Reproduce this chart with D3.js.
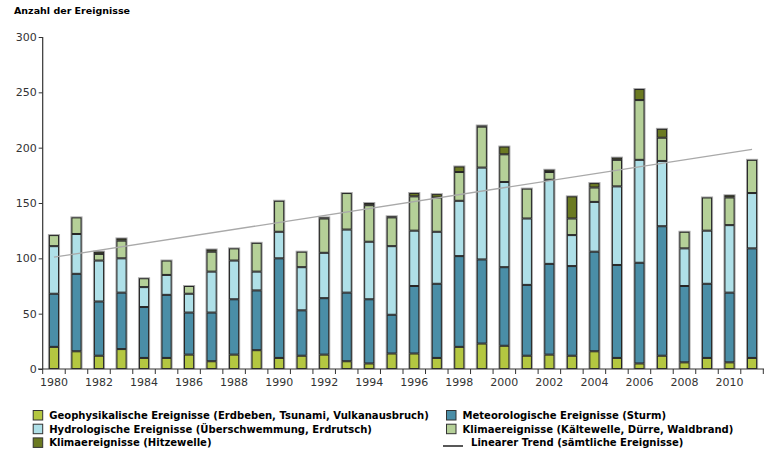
<!DOCTYPE html>
<html>
<head>
<meta charset="utf-8">
<script src="https://cdn.jsdelivr.net/npm/d3@7"></script>
<style>
  html, body { margin: 0; padding: 0; background: #fff; }
  svg { display: block; }
</style>
</head>
<body>
<svg id="chart" width="774" height="456"></svg>
<script>
// ---- Data ----
const years = d3.range(1980, 2012);
const geophysical = [20,16,12,18,10,10,13,7,13,17,10,12,13,7,5,14,14,10,20,23,21,12,13,12,16,10,5,12,6,10,6,10];
const meteorological = [48,70,49,51,46,57,38,44,50,54,90,41,51,62,58,35,61,67,82,76,71,64,82,81,90,84,91,117,69,67,63,99];
const hydrological = [43,36,37,31,18,18,17,37,35,17,24,39,41,57,52,62,50,47,50,83,77,60,76,28,45,71,93,59,34,48,61,50];
const climateCold = [10,15,6,16,8,13,7,18,11,26,28,14,31,33,33,26,31,31,26,37,25,27,7,15,13,24,54,21,15,30,25,30];
const climateHeat = [0,0,2,2,0,0,0,2,0,0,0,0,1,0,2,1,3,3,5,1,7,0,2,20,4,2,10,8,0,0,2,0];
const trendStart = 101;   // linear trend value at 1980
const trendEnd = 198.5;   // linear trend value at 2011
const yTicks = [0, 50, 100, 150, 200, 250, 300];
const xTickLabels = d3.range(1980, 2012, 2);

const seriesKeys = ["geo", "met", "hyd", "cold", "heat"];
const seriesNames = {
  geo: "Geophysikalische Ereignisse (Erdbeben, Tsunami, Vulkanausbruch)",
  met: "Meteorologische Ereignisse (Sturm)",
  hyd: "Hydrologische Ereignisse (Überschwemmung, Erdrutsch)",
  cold: "Klimaereignisse (Kältewelle, Dürre, Waldbrand)",
  heat: "Klimaereignisse (Hitzewelle)"
};
const colors = { geo: "#b4c741", met: "#4a8ea7", hyd: "#afe0e8", cold: "#b5d098", heat: "#6b7a22" };

const table = years.map((y, i) => ({
  year: y, geo: geophysical[i], met: meteorological[i], hyd: hydrological[i],
  cold: climateCold[i], heat: climateHeat[i]
}));

// ---- Layout ----
const svg = d3.select("#chart");
const x = d3.scaleBand().domain(years).range([42.7, 763.3]).paddingInner(0.55).paddingOuter(0.275);
const y = d3.scaleLinear().domain([0, 300]).range([369, 37]);

const font = "'DejaVu Sans', Verdana, sans-serif";

// Title
svg.append("text").attr("x", 14).attr("y", 14)
  .attr("font-family", font).attr("font-weight", "bold").attr("font-size", 9.5)
  .attr("fill", "#000").text("Anzahl der Ereignisse");

// Stacks
const stack = d3.stack().keys(seriesKeys)(table);
const totals = table.map(d => seriesKeys.reduce((s, k) => s + d[k], 0));

// gray outline behind bars
svg.append("g").selectAll("rect").data(table).join("rect")
  .attr("x", d => x(d.year) - 1)
  .attr("width", x.bandwidth() + 2)
  .attr("y", (d, i) => y(totals[i]) - 1)
  .attr("height", (d, i) => y(0) - y(totals[i]) + 1)
  .attr("fill", "#a8a8a8");

svg.append("g").selectAll("g").data(stack).join("g")
  .attr("fill", d => colors[d.key])
  .selectAll("rect").data(d => d.filter(s => s[1] > s[0])).join("rect")
  .attr("x", d => x(d.data.year) + 0.5)
  .attr("width", x.bandwidth() - 1)
  .attr("y", d => y(d[1]) + 0.5)
  .attr("height", d => Math.max(0, y(d[0]) - y(d[1]) - 1))
  .attr("stroke", "#262626").attr("stroke-width", 1);

// Trend line
svg.append("line")
  .attr("x1", x(1980) + x.bandwidth() / 2).attr("y1", y(trendStart))
  .attr("x2", x(2011) + x.bandwidth() / 2).attr("y2", y(trendEnd))
  .attr("stroke", "#a9a9a9").attr("stroke-width", 1.3);

// Y axis
const yAxis = svg.append("g").attr("transform", "translate(42.7,0)")
  .call(d3.axisLeft(y).tickValues(yTicks).tickSize(4).tickPadding(2));
yAxis.select(".domain").attr("stroke", "#333").attr("stroke-width", 1.2).attr("d", `M0,${y(300)}V${y(0)}`);
yAxis.selectAll(".tick line").attr("stroke", "#333");
yAxis.selectAll(".tick text").attr("font-family", font).attr("font-size", 11).attr("fill", "#333");

// X axis
const xAxisG = svg.append("g").attr("transform", `translate(0,${y(0)})`);
xAxisG.append("line").attr("x1", 38).attr("x2", 764).attr("y1", 0).attr("y2", 0)
  .attr("stroke", "#333").attr("stroke-width", 1.2);
const boundaries = years.map(yr => x(yr) - x.step() * x.paddingInner() / 2).concat([x(2011) + x.bandwidth() + x.step() * x.paddingInner() / 2]);
xAxisG.selectAll("line.tk").data(boundaries).join("line").attr("class", "tk")
  .attr("x1", d => d).attr("x2", d => d).attr("y1", 0).attr("y2", 5)
  .attr("stroke", "#333");
xAxisG.selectAll("text").data(xTickLabels).join("text")
  .attr("x", d => x(d) + x.bandwidth() / 2).attr("y", 17)
  .attr("text-anchor", "middle")
  .attr("font-family", font).attr("font-size", 11).attr("fill", "#333")
  .text(d => d);

// Legend
const legendItems = [
  { key: "geo", col: 0, row: 0 },
  { key: "met", col: 1, row: 0 },
  { key: "hyd", col: 0, row: 1 },
  { key: "cold", col: 1, row: 1 },
  { key: "heat", col: 0, row: 2 }
];
const colX = [32.7, 446];
const rowY = [410, 423.7, 437.4];
const lg = svg.append("g");
legendItems.forEach(it => {
  lg.append("rect").attr("x", colX[it.col] + 0.5).attr("y", rowY[it.row] + 0.5)
    .attr("width", 9.5).attr("height", 9.5)
    .attr("fill", colors[it.key]).attr("stroke", "#333").attr("stroke-width", 1);
  lg.append("text").attr("class", "lt").attr("x", colX[it.col] + 16.5).attr("y", rowY[it.row] + 9)
    .attr("font-family", font).attr("font-weight", "bold").attr("font-size", 9.5)
    .attr("fill", "#000").text(seriesNames[it.key]);
});
lg.append("line").attr("x1", 443).attr("x2", 463).attr("y1", 446).attr("y2", 446)
  .attr("stroke", "#111").attr("stroke-width", 1.4);
lg.append("text").attr("class", "lt").attr("x", 471).attr("y", rowY[2] + 9)
  .attr("font-family", font).attr("font-weight", "bold").attr("font-size", 9.5)
  .attr("fill", "#000").text("Linearer Trend (sämtliche Ereignisse)");

// fit legend font to target width of first label
const first = lg.select("text.lt").node();
const w = first.getComputedTextLength();
const fs = 9.5 * 380 / w;
lg.selectAll("text.lt").attr("font-size", fs);
</script>
</body>
</html>
